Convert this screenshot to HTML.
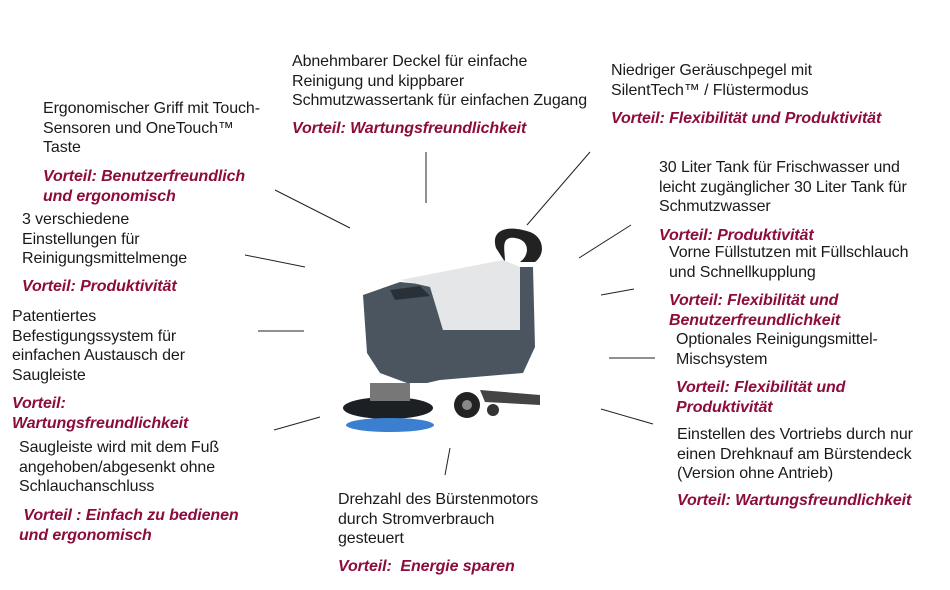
<!DOCTYPE html>
<html><head><meta charset="utf-8"><style>
body{margin:0;width:950px;height:590px;background:#fff;position:relative;overflow:hidden;font-family:"Liberation Sans",Arial,sans-serif;font-size:16px;color:#1a1a1a}
.t{position:absolute;line-height:19.5px;white-space:nowrap;letter-spacing:-0.1px}
.v{position:absolute;line-height:19.5px;white-space:nowrap;color:#8c0c3c;font-style:italic;font-weight:bold;letter-spacing:-0.1px}
svg{position:absolute;left:0;top:0}
</style></head><body>
<svg width="950" height="590">
<g stroke="#222" stroke-width="1">
<line x1="275" y1="190" x2="350" y2="228"/>
<line x1="245" y1="255" x2="305" y2="267"/>
<line x1="258" y1="331" x2="304" y2="331"/>
<line x1="274" y1="430" x2="320" y2="417"/>
<line x1="426" y1="152" x2="426" y2="203"/>
<line x1="590" y1="152" x2="527" y2="225"/>
<line x1="631" y1="225" x2="579" y2="258"/>
<line x1="634" y1="289" x2="601" y2="295"/>
<line x1="609" y1="358" x2="655" y2="358"/>
<line x1="601" y1="409" x2="653" y2="424"/>
<line x1="450" y1="448" x2="445" y2="475"/>
</g>
<g>
<path d="M496,248 C490,228 510,225 530,232 C545,238 545,255 535,262 L520,262 C530,255 530,240 515,238 C500,236 505,250 505,262 Z" fill="#222"/>
<path d="M363,295 L400,282 L430,285 L443,330 L520,330 L520,267 L533,267 L535,347 L523,373 L440,380 L427,383 L407,383 L380,373 L367,353 Z" fill="#4a5560"/>
<path d="M400,280 L503,260 L520,267 L520,330 L443,330 L430,287 Z" fill="#e4e6e8"/>
<path d="M390,290 L420,286 L430,296 L395,300 Z" fill="#2a3038"/>
<ellipse cx="388" cy="408" rx="45" ry="11" fill="#1c1f24"/>
<ellipse cx="390" cy="425" rx="44" ry="7" fill="#3a7fd0"/>
<rect x="370" y="383" width="40" height="18" fill="#777"/>
<circle cx="467" cy="405" r="13" fill="#222"/>
<circle cx="467" cy="405" r="5" fill="#888"/>
<circle cx="493" cy="410" r="6" fill="#333"/>
<path d="M480,390 L540,395 L540,405 L485,402 Z" fill="#444"/>
</g>
</svg>
<div class="t" style="left:43px;top:99px">Ergonomischer Griff mit Touch-<br>Sensoren und OneTouch™<br>Taste</div>
<div class="v" style="left:43px;top:167px">Vorteil: Benutzerfreundlich<br>und ergonomisch</div>
<div class="t" style="left:22px;top:210px">3 verschiedene<br>Einstellungen für<br>Reinigungsmittelmenge</div>
<div class="v" style="left:22px;top:277px">Vorteil: Produktivität</div>
<div class="t" style="left:12px;top:307px">Patentiertes<br>Befestigungssystem für<br>einfachen Austausch der<br>Saugleiste</div>
<div class="v" style="left:12px;top:394px">Vorteil:<br>Wartungsfreundlichkeit</div>
<div class="t" style="left:19px;top:438px">Saugleiste wird mit dem Fuß<br>angehoben/abgesenkt ohne<br>Schlauchanschluss</div>
<div class="v" style="left:19px;top:506px">&nbsp;Vorteil : Einfach zu bedienen<br>und ergonomisch</div>
<div class="t" style="left:292px;top:52px">Abnehmbarer Deckel für einfache<br>Reinigung und kippbarer<br>Schmutzwassertank für einfachen Zugang</div>
<div class="v" style="left:292px;top:119px">Vorteil: Wartungsfreundlichkeit</div>
<div class="t" style="left:611px;top:61px">Niedriger Geräuschpegel mit<br>SilentTech™ / Flüstermodus</div>
<div class="v" style="left:611px;top:109px">Vorteil: Flexibilität und Produktivität</div>
<div class="t" style="left:659px;top:158px">30 Liter Tank für Frischwasser und<br>leicht zugänglicher 30 Liter Tank für<br>Schmutzwasser</div>
<div class="v" style="left:659px;top:226px">Vorteil: Produktivität</div>
<div class="t" style="left:669px;top:243px">Vorne Füllstutzen mit Füllschlauch<br>und Schnellkupplung</div>
<div class="v" style="left:669px;top:291px">Vorteil: Flexibilität und<br>Benutzerfreundlichkeit</div>
<div class="t" style="left:676px;top:330px">Optionales Reinigungsmittel-<br>Mischsystem</div>
<div class="v" style="left:676px;top:378px">Vorteil: Flexibilität und<br>Produktivität</div>
<div class="t" style="left:677px;top:425px">Einstellen des Vortriebs durch nur<br>einen Drehknauf am Bürstendeck<br>(Version ohne Antrieb)</div>
<div class="v" style="left:677px;top:491px">Vorteil: Wartungsfreundlichkeit</div>
<div class="t" style="left:338px;top:490px">Drehzahl des Bürstenmotors<br>durch Stromverbrauch<br>gesteuert</div>
<div class="v" style="left:338px;top:557px">Vorteil:&nbsp; Energie sparen</div>
</body></html>
